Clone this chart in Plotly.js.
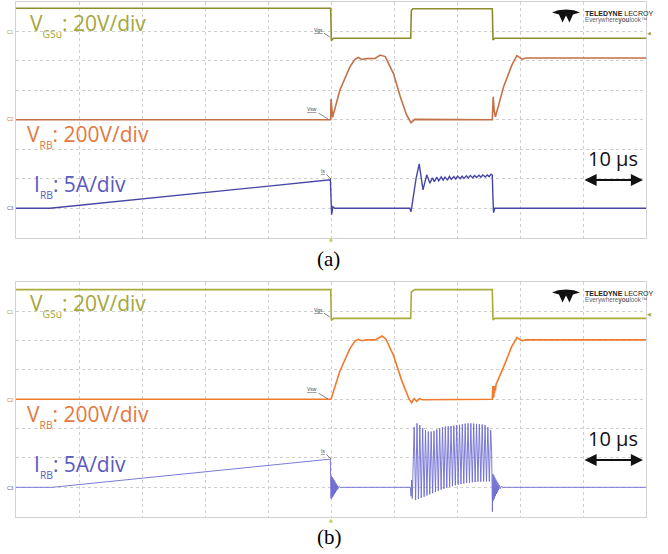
<!DOCTYPE html>
<html><head><meta charset="utf-8">
<script src="https://cdn.plot.ly/plotly-3.0.1.min.js"></script>
<style>html,body{margin:0;padding:0;background:#fff}#chart{width:668px;height:554px}</style>
</head><body><div id="chart"></div>
<script>
// ---- data: time in microseconds (10 us/div), amplitude in screen divisions ----
// Panel (a)
const vgsA_t = [0, 49.95, 50.05, 50.4, 62.65, 62.75, 63.0, 75.6, 75.72, 76.0, 100];
const vgsA_v = [7.78, 7.78, 6.68, 6.76, 6.76, 7.70, 7.76, 7.76, 6.70, 6.76, 6.76];
const vrbA_t = [0, 49.95, 50.0, 50.1, 50.25, 51.4, 53.0, 53.8, 54.3, 54.9, 55.6, 57.0, 57.8, 58.6, 59.9, 61.0, 62.0, 62.7, 63.3, 75.6, 75.75, 75.9, 76.1, 77.4, 78.7, 79.5, 80.3, 81.0, 100];
const vrbA_v = [4.0, 4.0, 4.7, 4.3, 4.08, 5.0, 5.79, 6.05, 6.11, 6.04, 6.07, 6.08, 6.19, 6.14, 5.57, 4.78, 4.16, 3.9, 4.01, 4.0, 4.78, 4.3, 4.1, 5.12, 5.85, 6.17, 6.05, 6.09, 6.09];
const irbA_t = [0, 5.4, 49.9, 50.0, 50.1, 50.3, 50.6, 62.5, 62.7, 63.0, 63.5, 64.0, 64.6, 65.2, 65.7, 66.1, 66.4, 66.8, 67.1, 67.5, 67.8, 68.1, 68.5, 68.8, 69.1, 69.5, 69.8, 70.1, 70.5, 70.8, 71.1, 71.5, 71.8, 72.1, 72.5, 72.8, 73.1, 73.5, 73.8, 74.1, 74.5, 74.8, 75.1, 75.4, 75.6, 75.7, 75.8, 76.0, 76.3, 100];
const irbA_v = [1.0, 1.0, 1.96, 1.2, 0.78, 1.05, 1.0, 1.0, 0.88, 1.3, 2.0, 2.50, 1.62, 2.13, 1.85, 2.03, 1.9, 2.05, 1.93, 2.06, 1.95, 2.05, 1.96, 2.08, 1.98, 2.07, 1.99, 2.09, 2.0, 2.09, 2.01, 2.10, 2.02, 2.11, 2.03, 2.11, 2.04, 2.12, 2.05, 2.13, 2.06, 2.13, 2.07, 2.15, 2.12, 1.4, 0.85, 1.0, 1.0, 1.0];
// Panel (b)
const vgsB_t = [0, 49.95, 50.05, 50.4, 62.65, 62.75, 63.3, 75.6, 75.72, 76.0, 100];
const vgsB_v = [7.73, 7.73, 6.68, 6.75, 6.75, 7.65, 7.73, 7.73, 6.70, 6.75, 6.75];
const vrbB_t = [0, 50.0, 51.4, 53.0, 53.8, 54.3, 54.9, 55.6, 57.0, 58.1, 58.7, 59.9, 61.2, 62.4, 62.8, 63.2, 63.6, 64.0, 64.5, 75.6, 75.7, 75.75, 75.8, 75.85, 75.9, 75.95, 76.0, 76.1, 76.2, 77.4, 78.7, 79.5, 80.3, 81.0, 100];
const vrbB_v = [4.0, 4.0, 4.95, 5.72, 5.98, 6.04, 5.99, 6.02, 6.02, 6.15, 6.05, 5.5, 4.65, 4.0, 3.88, 4.02, 3.93, 4.02, 3.98, 4.0, 4.45, 4.05, 4.42, 4.1, 4.45, 4.2, 4.45, 4.3, 4.5, 5.1, 5.8, 6.1, 5.99, 6.02, 6.02];
const irbB_t = [0, 5.7, 49.9, 50.0, 50.06, 50.13, 50.2, 50.27, 50.34, 50.41, 50.48, 50.55, 50.62, 50.69, 50.76, 50.83, 50.9, 50.97, 51.05, 51.15, 51.3, 51.5, 62.6, 62.7, 62.8, 62.9, 63.0,
  63.2, 63.43, 63.65, 63.88, 64.1, 64.33, 64.55, 64.78, 65.0, 65.23, 65.45, 65.68, 65.9, 66.13, 66.35, 66.58, 66.8, 67.03, 67.25, 67.48, 67.7, 67.93, 68.15, 68.38, 68.6, 68.83, 69.05, 69.28, 69.5, 69.73, 69.95, 70.18, 70.4, 70.63, 70.85, 71.08, 71.3, 71.53, 71.75, 71.98, 72.2, 72.43, 72.65, 72.88, 73.1, 73.33, 73.55, 73.78, 74.0, 74.23, 74.45, 74.68, 74.9, 75.13, 75.35,
  75.5, 75.62, 75.7, 75.78, 75.86, 75.94, 76.02, 76.1, 76.18, 76.26, 76.34, 76.42, 76.5, 76.6, 76.7, 76.85, 77.0, 77.3, 100];
const irbB_v = [1.0, 1.0, 1.96, 0.62, 1.38, 0.63, 1.34, 0.67, 1.3, 0.72, 1.25, 0.77, 1.2, 0.82, 1.15, 0.87, 1.1, 0.92, 1.06, 0.96, 1.02, 1.0, 1.0, 0.7, 1.25, 0.62, 1.6,
  3.05, 0.57, 3.18, 0.6, 3.12, 0.64, 3.02, 0.68, 2.95, 0.72, 2.9, 0.76, 2.9, 0.8, 2.92, 0.84, 2.97, 0.88, 3.02, 0.92, 3.05, 0.95, 3.07, 0.98, 3.08, 1.01, 3.09, 1.04, 3.1, 1.07, 3.12, 1.09, 3.13, 1.11, 3.15, 1.13, 3.17, 1.15, 3.18, 1.16, 3.18, 1.17, 3.17, 1.18, 3.16, 1.19, 3.15, 1.19, 3.14, 1.2, 3.12, 1.2, 3.05, 1.2, 2.95,
  2.2, 0.17, 1.45, 0.55, 1.4, 0.62, 1.33, 0.7, 1.26, 0.77, 1.2, 0.83, 1.14, 0.9, 1.08, 0.95, 1.03, 1.0, 1.0];

const labels = {
  vgs: 'V<sub><sub>GSu</sub></sub>: 20V/div',
  vrb: 'V<sub><sub>RB</sub></sub>: 200V/div',
  irb: 'I<sub><sub>RB</sub></sub>: 5A/div',
  scale: '10 µs',
  capA: '(a)', capB: '(b)'
};

// ---- styling ----
const W = 668, H = 554;
const colA = {vgs: '#8e8e2c', vrb: '#c47048', irb: '#4646a8'};
const colB = {vgs: '#abab3a', vrb: '#f27a2c', irb: '#6c6cd2'};
const txt = {vgs: '#a6a63a', vrb: '#e27840', irb: '#5a5abf'};
const panels = [
  {x0: 16, x1: 646, y0: 1.7, y1: 237.7},
  {x0: 16, x1: 646, y0: 281.7, y1: 516.7}
];
const PX = px => px / W, PY = py => 1 - py / H;

function mkx(p, extra) {
  return Object.assign({domain: [PX(p.x0), PX(p.x1)], range: [0, 100], dtick: 10, tick0: 0,
    showgrid: true, gridcolor: '#cfcfcf', griddash: 'dot', gridwidth: 1,
    showline: true, mirror: true, linecolor: '#d2d2d2', linewidth: 1,
    zeroline: false, showticklabels: false, ticks: '', fixedrange: true}, extra);
}
function mky(p, extra) {
  return Object.assign({domain: [PY(p.y1), PY(p.y0)], range: [0, 8], dtick: 1, tick0: 0,
    showgrid: true, gridcolor: '#cfcfcf', griddash: 'dot', gridwidth: 1,
    showline: true, mirror: true, linecolor: '#d2d2d2', linewidth: 1,
    zeroline: false, showticklabels: false, ticks: '', fixedrange: true}, extra);
}

const line = (t, v, c, xa, ya, w) => ({x: t, y: v, type: 'scatter', mode: 'lines', xaxis: xa, yaxis: ya,
  line: {color: c, width: w || 1.6}, hoverinfo: 'skip', showlegend: false});

const data = [
  line(vgsA_t, vgsA_v, colA.vgs, 'x', 'y'),
  line(vrbA_t, vrbA_v, colA.vrb, 'x', 'y'),
  line(irbA_t, irbA_v, colA.irb, 'x', 'y', 1.4),
  line(vgsB_t, vgsB_v, colB.vgs, 'x2', 'y2'),
  line(vrbB_t, vrbB_v, colB.vrb, 'x2', 'y2'),
  line(irbB_t, irbB_v, colB.irb, 'x2', 'y2', 0.9)
];

const annotations = [], shapes = [];
function ann(px, py, text, o) {
  annotations.push(Object.assign({xref: 'paper', yref: 'paper', x: PX(px), y: PY(py), text: text,
    showarrow: false, xanchor: 'center', yanchor: 'middle',
    font: {family: 'Open Sans, sans-serif', size: 10, color: '#000'}}, o || {}));
}

panels.forEach((p, i) => {
  const d = p.y0 - 1.7; // vertical offset of panel
  const tf = (c, s) => ({family: 'Open Sans, sans-serif', size: s, color: c});
  ann(28, 25 + d, labels.vgs, {xanchor: 'left', font: tf(txt.vgs, 21)});
  ann(25, 136 + d, labels.vrb, {xanchor: 'left', font: tf(txt.vrb, 21)});
  ann(32, 185.5 + d, labels.irb, {xanchor: 'left', font: tf(txt.irb, 21)});
  ann(613, 158.5 + d, labels.scale, {font: tf('#111', 20)});
  annotations.push({xref: 'paper', yref: 'paper', x: PX(643), y: PY(180 + d), ax: -60, ay: 0,
    text: '', showarrow: true, arrowside: 'end+start', arrowhead: 2, arrowsize: 1.1, arrowwidth: 2.2,
    arrowcolor: '#111', standoff: 0, startstandoff: 0});
  // channel markers
  const small = c => ({family: 'Liberation Sans, sans-serif', size: 5, color: c});
  ann(10, 31.5 + d, 'C1', {font: small(txt.vgs)});
  ann(10, 119.5 + d, 'C2', {font: small(txt.vrb)});
  ann(10, 208 + d, 'C3', {font: small(txt.irb)});
  ann(649, 33.5 + d, '◀', {font: {family: 'DejaVu Sans', size: 5, color: txt.vgs}});
  ann(331, 239.5 + d, '▲', {font: {family: 'DejaVu Sans', size: 5, color: '#c8c840'}});
  // trace tags near the switching edge
  const tag = {family: 'Liberation Sans, sans-serif', size: 5, color: '#444'};
  const tagAnn = (hx, hy, tx, ty, t) => annotations.push({xref: 'paper', yref: 'paper',
    x: PX(hx), y: PY(hy + d), ax: tx - hx, ay: ty - hy, text: '<u>' + t + '</u>', showarrow: true,
    arrowhead: 0, arrowwidth: 0.7, arrowcolor: '#555', font: tag, standoff: 0});
  tagAnn(330, 37, 318, 29.5, 'Vgs');
  tagAnn(328, 119, 312, 109, 'Vsw');
  tagAnn(331, 179, 323, 171, 'Is');
  // logo
  ann(583, 13.2 + d, '<b>TELEDYNE</b> LECROY', {xanchor: 'left',
    font: {family: 'Liberation Sans Narrow, Liberation Sans, sans-serif', size: 7, color: '#222'}});
  ann(583, 19.6 + d, 'Everywhere<b>you</b>look™', {xanchor: 'left',
    font: {family: 'Liberation Sans Narrow, Liberation Sans, sans-serif', size: 6.3, color: '#666'}});
  const pts = [[552, 12.5], [558, 10.2], [566, 9.4], [574, 10.2], [580, 12.5], [573, 14.5], [569.5, 22.5], [566, 15.5], [562.5, 22.5], [559, 14.5]];
  shapes.push({type: 'path', xref: 'paper', yref: 'paper', fillcolor: '#111', line: {width: 0},
    path: 'M' + pts.map(q => PX(q[0]) + ',' + PY(q[1] + d)).join(' L') + ' Z'});
});
ann(328.5, 259, labels.capA, {font: {family: 'Liberation Serif, serif', size: 21, color: '#000'}});
ann(329, 537, labels.capB, {font: {family: 'Liberation Serif, serif', size: 21, color: '#000'}});

// center crosshair tick axes
const centerY = p => PY(p.y0 + 4 * (p.y1 - p.y0) / 8);
const centerX = p => PX(p.x0 + 5 * (p.x1 - p.x0) / 10);
const tickAxis = {showgrid: false, showline: false, zeroline: false, showticklabels: false,
  ticks: 'outside', ticklen: 3, tickwidth: 1, tickcolor: '#c4c4c4', fixedrange: true};

const layout = {
  width: W, height: H, margin: {l: 0, r: 0, t: 0, b: 0},
  paper_bgcolor: '#fff', plot_bgcolor: '#fff', showlegend: false, hovermode: false,
  xaxis: mkx(panels[0], {anchor: 'y'}), yaxis: mky(panels[0], {anchor: 'x'}),
  xaxis2: mkx(panels[1], {anchor: 'y2'}), yaxis2: mky(panels[1], {anchor: 'x2'}),
  xaxis3: Object.assign({overlaying: 'x', anchor: 'free', position: centerY(panels[0]), range: [0, 100], dtick: 2}, tickAxis),
  yaxis3: Object.assign({overlaying: 'y', anchor: 'free', position: centerX(panels[0]), range: [0, 8], dtick: 0.2}, tickAxis),
  xaxis4: Object.assign({overlaying: 'x2', anchor: 'free', position: centerY(panels[1]), range: [0, 100], dtick: 2}, tickAxis),
  yaxis4: Object.assign({overlaying: 'y2', anchor: 'free', position: centerX(panels[1]), range: [0, 8], dtick: 0.2}, tickAxis),
  annotations: annotations, shapes: shapes
};
Plotly.newPlot('chart', data, layout, {staticPlot: true, displayModeBar: false});
</script></body></html>
